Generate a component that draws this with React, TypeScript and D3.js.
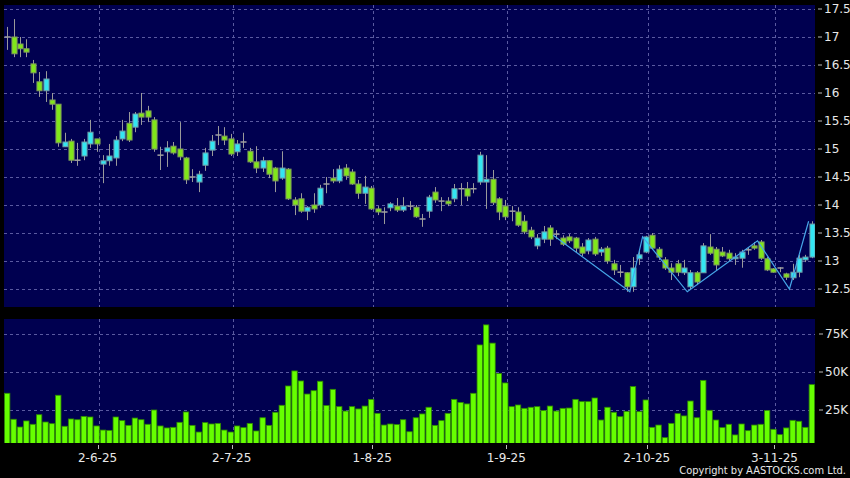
import React from "react";
import * as d3 from "d3";

// ---- DATA ----
const opens = [17.0,17.0,16.875,16.79,16.52,16.2,16.04,15.875,15.8,15.04,15.14,14.8,14.875,15.09,15.18,14.73,14.79,14.84,15.18,15.46,15.39,15.64,15.68,15.52,14.89,14.95,15.05,15.0,14.84,14.5,14.41,14.71,14.98,15.25,15.23,15.18,14.95,15.125,14.96,14.77,14.66,14.79,14.66,14.48,14.64,14.09,14.11,13.89,14.0,14.0,14.375,14.48,14.43,14.66,14.59,14.375,14.21,14.3,13.93,13.875,13.95,13.98,13.91,13.98,13.96,13.75,13.89,14.23,14.07,14.07,14.11,14.29,14.29,14.29,14.41,14.41,14.46,14.11,13.98,13.89,13.875,13.71,13.55,13.27,13.39,13.59,13.48,13.41,13.43,13.41,13.25,13.18,13.39,13.16,13.23,12.95,12.8,12.79,12.54,13.04,13.16,13.46,13.21,13.02,12.875,12.95,12.79,12.54,12.79,12.79,13.25,13.21,13.16,13.14,13.04,13.05,13.2,13.27,13.34,13.04,12.86,12.875,12.77,12.7,12.8,13.02,13.07];
const highs = [17.18,17.32,17.0,16.96,16.59,16.375,16.39,16.0,15.8,15.29,15.18,15.11,15.18,15.52,15.18,14.89,15.09,15.23,15.52,15.66,15.66,16.0,15.77,15.57,15.04,15.14,15.125,15.48,14.86,14.64,14.61,15.02,15.25,15.41,15.39,15.27,15.16,15.29,15.02,15.05,14.86,14.8,14.68,14.96,14.66,14.14,14.21,13.98,14.21,14.36,14.5,14.64,14.71,14.73,14.64,14.45,14.52,14.34,13.98,13.96,14.05,14.125,14.14,14.07,14.0,13.84,14.18,14.32,14.14,14.14,14.375,14.39,14.41,14.39,14.95,14.89,14.625,14.14,14.09,13.98,13.96,13.82,13.61,13.48,13.625,13.64,13.55,13.46,13.48,13.43,13.32,13.41,13.43,13.25,13.27,13.02,12.93,12.8,13.07,13.21,13.45,13.5,13.25,13.07,12.96,13.02,13.02,12.84,12.82,13.32,13.48,13.25,13.25,13.2,13.14,13.2,13.25,13.34,13.375,13.07,12.875,12.89,12.79,12.95,13.11,13.11,13.71];
const lows = [16.77,16.64,16.64,16.64,16.18,15.93,15.84,15.7,15.04,15.04,14.75,14.7,14.8,15.02,14.95,14.39,14.7,14.7,15.14,15.125,15.3,15.43,15.48,14.95,14.625,14.68,14.9,14.8,14.375,14.41,14.23,14.61,14.875,15.07,15.07,14.875,14.875,15.02,14.75,14.57,14.59,14.48,14.23,14.45,14.09,13.82,13.86,13.73,13.86,13.95,14.21,14.39,14.39,14.45,14.36,14.11,14.02,13.91,13.82,13.66,13.89,13.875,13.875,13.91,13.77,13.61,13.77,14.04,13.89,13.98,14.05,14.0,14.07,14.21,14.36,13.93,14.0,13.73,13.73,13.71,13.61,13.48,13.39,13.21,13.32,13.27,13.39,13.27,13.32,13.16,13.09,13.12,13.09,13.09,12.95,12.75,12.71,12.45,12.45,12.93,13.14,13.21,13.02,12.84,12.66,12.73,12.75,12.5,12.57,12.79,13.11,12.84,13.07,13.0,12.93,12.88,13.11,13.2,13.02,12.82,12.79,12.8,12.66,12.66,12.71,12.98,13.05];
const closes = [17.0,16.7,16.79,16.73,16.36,16.04,16.25,15.8,15.11,15.125,14.8,14.8,15.125,15.3,15.09,14.79,14.875,15.16,15.32,15.16,15.625,15.57,15.57,15.0,14.89,15.02,14.93,14.86,14.45,14.5,14.55,14.93,15.14,15.25,15.16,14.91,15.09,15.125,14.77,14.66,14.79,14.55,14.43,14.66,14.11,14.0,13.89,13.96,13.93,14.3,14.375,14.43,14.64,14.52,14.375,14.21,14.32,13.93,13.875,13.875,14.02,13.91,13.98,13.98,13.79,13.75,14.14,14.09,14.07,14.02,14.29,14.29,14.16,14.29,14.89,14.46,14.04,13.875,13.79,13.89,13.64,13.52,13.43,13.41,13.52,13.39,13.48,13.3,13.36,13.23,13.14,13.375,13.125,13.21,13.0,12.84,12.8,12.54,12.875,13.11,13.43,13.23,13.07,12.875,12.8,12.8,12.875,12.79,12.625,13.27,13.14,12.93,13.09,13.04,13.07,13.16,13.2,13.23,13.05,12.84,12.8,12.875,12.71,12.8,13.05,13.07,13.66];
const volumesK = [36,18.9,13.8,17.8,15.6,21.9,17.1,16,34.7,14.3,19.1,18.6,20.8,20.4,14.5,11.8,11.6,20.4,18,14.9,19.7,18.6,15.6,25,14.5,13.2,13.6,16.9,23.7,14.9,10.5,16.7,15.8,16.2,11.8,10.5,14.5,13.4,16.2,11.2,19.9,14.9,23.5,28.1,40.8,50.7,44.1,35.5,37.7,43.9,27.9,38.6,27.2,24.3,27.2,25.7,27.6,32,22.8,15.1,15.8,15.4,18.6,10.7,19.9,22.4,26.8,14.9,18,22.8,32,30,29,36,67.8,81,69,49,42.8,27.2,28.3,26.1,26.8,27.2,24.6,27.6,24.3,26.1,26.3,32,30.5,30.5,32.9,18.4,26.8,23.5,20.6,24.1,40.4,23.9,31.6,13.6,15.1,6.8,16.2,22.6,21.1,30.9,19.9,44.5,24.8,18.4,13.4,15.6,8.6,15.8,11.4,15.1,15.6,24.6,12.3,8.8,13.2,18.2,17.6,13.6,41.7];
const zigIndex = [86, 98, 100, 107, 118, 123, 126];
const zigPrice = [13.46, 12.45, 13.43, 12.45, 13.36, 12.5, 13.71];
const monthTickIndex = [14, 35, 57, 78, 100, 120];
const monthTickLabels = ["2-6-25", "2-7-25", "1-8-25", "1-9-25", "2-10-25", "3-11-25"];
const priceTicks = [12.5, 13, 13.5, 14, 14.5, 15, 15.5, 16, 16.5, 17, 17.5];
const volTicks = [25, 50, 75];
const volTickLabels = ["25K", "50K", "75K"];

// ---- LAYOUT ----
const W = 850, H = 478;
const L = 4, R = 815;
const pTop = 5, pBot = 307;
const vTop = 319, vBot = 443;
const BG = "#000050";
const GRID = "#5a5aa0";
const TXT = "#e8e8e8";
const FONT = "DejaVu Sans, Verdana, sans-serif";

export default function App() {
  const n = opens.length;
  const x = d3.scaleBand<number>().domain(d3.range(n)).range([L, R]).paddingInner(0).paddingOuter(0);
  const step = x.step();
  const cx = (i: number) => (x(i) as number) + step / 2;
  const y = d3.scaleLinear().domain([12.5, 17.5]).range([289, 9]);
  const yv = d3.scaleLinear().domain([0, 75]).range([448, 334]);
  const bodyW = step * 0.8;
  const zig = d3.line<number>().x((i) => x(zigIndex[i]) as number).y((i) => y(zigPrice[i]));

  return (
    <svg width={W} height={H} style={{ position: "absolute", left: 0, top: 0, display: "block" }} xmlns="http://www.w3.org/2000/svg">
      <defs>
        <clipPath id="pc"><rect x={L} y={pTop} width={R - L} height={pBot - pTop} /></clipPath>
        <clipPath id="vc"><rect x={L} y={vTop} width={R - L} height={vBot - vTop} /></clipPath>
      </defs>
      <rect x={0} y={0} width={W} height={H} fill="#000" />
      <rect x={L} y={pTop} width={R - L} height={pBot - pTop} fill={BG} />
      <rect x={L} y={vTop} width={R - L} height={vBot - vTop} fill={BG} />

      {/* grids */}
      <g stroke={GRID} strokeWidth={1} strokeDasharray="3,3" shapeRendering="crispEdges">
        {priceTicks.map((p) => (
          <line key={"pg" + p} x1={L} x2={R} y1={Math.round(y(p)) + 0.5} y2={Math.round(y(p)) + 0.5} />
        ))}
        {volTicks.map((v) => (
          <line key={"vg" + v} x1={L} x2={R} y1={Math.round(yv(v)) + 0.5} y2={Math.round(yv(v)) + 0.5} />
        ))}
        {monthTickIndex.map((i) => (
          <g key={"mg" + i}>
            <line x1={Math.round(cx(i) + 2) + 0.5} x2={Math.round(cx(i) + 2) + 0.5} y1={pTop} y2={pBot} />
            <line x1={Math.round(cx(i) + 2) + 0.5} x2={Math.round(cx(i) + 2) + 0.5} y1={vTop} y2={vBot} />
          </g>
        ))}
      </g>

      {/* candles */}
      <g clipPath="url(#pc)">
        {opens.map((o, i) => {
          const c = closes[i];
          const up = c > o;
          const doji = Math.abs(c - o) < 0.001;
          const xc = Math.round(cx(i)) + 0.5;
          const top = y(Math.max(o, c));
          const bot = y(Math.min(o, c));
          return (
            <g key={"c" + i}>
              <line x1={xc} x2={xc} y1={y(highs[i])} y2={y(lows[i])} stroke="#9a9a9a" strokeWidth={1} />
              {doji ? (
                <line x1={xc - bodyW / 2 - 0.5} x2={xc + bodyW / 2 + 0.5} y1={top} y2={top} stroke="#a0a0a0" strokeWidth={1.5} />
              ) : (
                <rect x={xc - bodyW / 2} y={top} width={bodyW} height={Math.max(1, bot - top)}
                  fill={up ? "#33e6f2" : "#80e61a"} stroke={up ? "#6f9aa6" : "#7f9a5c"} strokeWidth={1} />
              )}
            </g>
          );
        })}
        <path d={zig(d3.range(zigIndex.length)) || ""} fill="none" stroke="#46a6e8" strokeWidth={1.2} />
      </g>

      {/* volume */}
      <g clipPath="url(#vc)">
        {volumesK.map((v, i) => (
          <rect key={"v" + i} x={(x(i) as number) + 0.5} y={yv(v)} width={step - 1} height={vBot + 6 - yv(v)}
            fill="#66ff00" stroke="#2f8a00" strokeWidth={0.8} />
        ))}
      </g>

      {/* right axis labels */}
      <g fill={TXT} fontFamily={FONT} fontSize={12}>
        {priceTicks.map((p) => (
          <g key={"pl" + p}>
            <line x1={818} x2={822} y1={y(p)} y2={y(p)} stroke="#bbb" strokeWidth={1} />
            <text x={824} y={y(p) + 4.3}>{String(p)}</text>
          </g>
        ))}
        {volTicks.map((v, k) => (
          <g key={"vl" + v}>
            <line x1={819} x2={823} y1={yv(v)} y2={yv(v)} stroke="#bbb" strokeWidth={1} />
            <text x={825} y={yv(v) + 4.3}>{volTickLabels[k]}</text>
          </g>
        ))}
        {monthTickIndex.map((i, k) => (
          <g key={"ml" + i}>
            <line x1={Math.round(cx(i) + 1) + 0.5} x2={Math.round(cx(i) + 1) + 0.5} y1={445} y2={449} stroke="#bbb" strokeWidth={1} />
            <text x={cx(i) + 1} y={462} textAnchor="middle">{monthTickLabels[k]}</text>
          </g>
        ))}
        <text x={846} y={474} textAnchor="end" fontSize={11} fontFamily="DejaVu Sans Condensed, Liberation Sans Narrow, DejaVu Sans, sans-serif">Copyright by AASTOCKS.com Ltd.</text>
      </g>
    </svg>
  );
}
